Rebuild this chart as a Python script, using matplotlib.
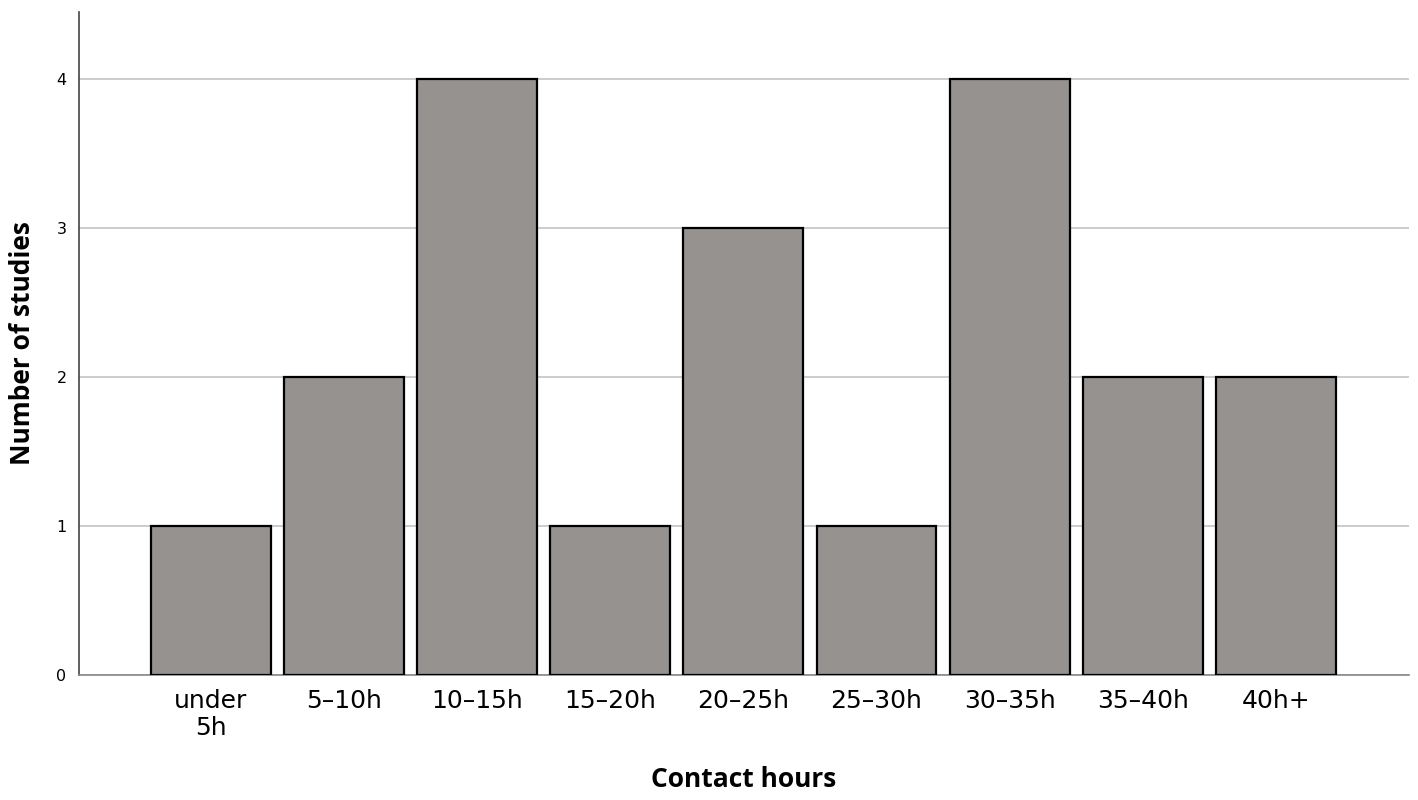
import matplotlib.pyplot as plt
import numpy as np

plt.rcParams['font.family'] = ['Open Sans', 'DejaVu Sans']

categories = ["under\n5h", "5-10h", "10-15h", "15-20h", "20-25h",
              "25-30h", "30-35h", "35-40h", "40h+"]
n_studies = [1, 2, 4, 1, 3, 1, 4, 2, 2]

fig = plt.figure(figsize=(14.18, 8.0), dpi=100)
ax = fig.add_axes([79 / 1418, 125 / 800, 1330 / 1418, 663 / 800])

x = np.arange(len(categories))
ax.bar(x, n_studies, width=0.9, color='#959290', edgecolor='black',
       linewidth=1.6, zorder=3)

ax.set_xlim(-0.99, 9.0)
ax.set_ylim(0, 4.45)
ax.set_yticks([0, 1, 2, 3, 4])
ax.set_xticks(x)
ax.set_xticklabels([c.replace('-', '\u2013') for c in categories],
                   fontsize=18, family='DejaVu Sans', linespacing=1.15)
for t in ax.get_yticklabels():
    t.set_family('DejaVu Sans')
ax.tick_params(axis='y', length=0, labelsize=11.5, pad=9)
ax.tick_params(axis='x', length=0, pad=10)

ax.grid(axis='y', color='#c4c4c4', linewidth=1.2, zorder=0)
for side in ['top', 'right']:
    ax.spines[side].set_visible(False)
ax.spines['left'].set_color('#444444')
ax.spines['bottom'].set_color('#888888')
ax.spines['left'].set_linewidth(1.2)
ax.spines['bottom'].set_linewidth(1.2)

ax.set_xlabel('Contact hours', fontsize=19, fontweight='bold')
ax.set_ylabel('Number of studies', fontsize=19, fontweight='bold')
ax.xaxis.set_label_coords(0.5, -91 / 663)
ax.yaxis.set_label_coords(-43 / 1330, 0.5)

plt.savefig('out.png', dpi=100)
